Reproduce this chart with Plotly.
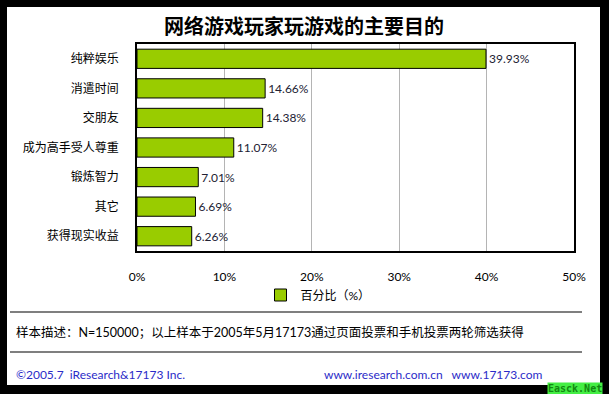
import plotly.graph_objects as go

categories = ["纯粹娱乐", "消遣时间", "交朋友", "成为高手受人尊重", "锻炼智力", "其它", "获得现实收益"]
values = [39.93, 14.66, 14.38, 11.07, 7.01, 6.69, 6.26]
x_ticks = [0, 10, 20, 30, 40, 50]
x_tick_labels = ["0%", "10%", "20%", "30%", "40%", "50%"]
series_name = "百分比（%）"

W, H = 609, 394
L, R, T, B = 137, 574, 44, 251  # plot area in pixels


def px(x):
    return (x - L) / (R - L)


def py(y):
    return (B - y) / (B - T)


CJK = "Lato, 'Noto Sans CJK SC', sans-serif"

fig = go.Figure(go.Bar(
    y=categories,
    x=values,
    orientation="h",
    name=series_name,
    marker=dict(color="#99CC00", line=dict(color="#000000", width=1)),
    texttemplate="%{x:.2f}%",
    textposition="outside",
    textfont=dict(family=CJK, size=12, color="#222233"),
    cliponaxis=False,
    showlegend=True,
))

fig.update_layout(
    width=W, height=H,
    margin=dict(l=L, r=W - R, t=T, b=H - B),
    paper_bgcolor="#000000",
    plot_bgcolor="#FFFFFF",
    bargap=0.35,
    font=dict(family=CJK, size=12, color="#000000"),
    showlegend=True,
    legend=dict(
        orientation="h", x=px(318), y=py(295), xanchor="center", yanchor="middle",
        font=dict(size=12, family=CJK, color="#000000"),
        bgcolor="rgba(0,0,0,0)", itemwidth=30,
    ),
    xaxis=dict(
        range=[0, 50], tickvals=x_ticks, ticktext=x_tick_labels,
        showgrid=True, gridcolor="#B4B4B4", gridwidth=1,
        showline=True, linecolor="#000000", linewidth=1.5, mirror=True,
        zeroline=False, ticks="", ticklabelstandoff=14,
        tickfont=dict(size=12, family=CJK, color="#000000"),
    ),
    yaxis=dict(
        categoryorder="array", categoryarray=categories, autorange="reversed",
        showline=True, linecolor="#000000", linewidth=1.5, mirror=True,
        ticks="", ticklabelstandoff=14,
        tickfont=dict(size=12, family=CJK, color="#000000"),
    ),
    shapes=[
        dict(type="rect", xref="paper", yref="paper",
             x0=px(7), x1=px(600), y0=py(385), y1=py(7),
             fillcolor="#FFFFFF", line=dict(width=0), layer="below"),
        dict(type="line", xref="paper", yref="paper",
             x0=px(10), x1=px(582), y0=py(312), y1=py(312),
             line=dict(color="#000000", width=1.2)),
        dict(type="line", xref="paper", yref="paper",
             x0=px(10), x1=px(582), y0=py(352), y1=py(352),
             line=dict(color="#000000", width=1.2)),
    ],
    annotations=[
        dict(text="<b>网络游戏玩家玩游戏的主要目的</b>", xref="paper", yref="paper",
             x=px(304), y=py(25), xanchor="center", yanchor="middle", showarrow=False,
             font=dict(size=20, family="'Noto Sans CJK SC', sans-serif", color="#000000")),
        dict(text="样本描述：N=150000；以上样本于2005年5月17173通过页面投票和手机投票两轮筛选获得",
             xref="paper", yref="paper", x=px(14), y=py(332), xanchor="left", yanchor="middle",
             showarrow=False, font=dict(size=12.5, family=CJK, color="#000000")),
        dict(text="©2005.7  iResearch&17173 Inc.", xref="paper", yref="paper",
             x=px(14), y=py(374), xanchor="left", yanchor="middle", showarrow=False,
             font=dict(size=12, family=CJK, color="#2B2BC8")),
        dict(text="www.iresearch.com.cn   www.17173.com", xref="paper", yref="paper",
             x=px(322), y=py(374), xanchor="left", yanchor="middle", showarrow=False,
             font=dict(size=12, family=CJK, color="#2B2BC8")),
        dict(text="<b>Easck.Net</b>", xref="paper", yref="paper",
             x=px(603), y=py(388), xanchor="right", yanchor="middle", showarrow=False,
             bgcolor="#44EE44", borderpad=0,
             font=dict(size=10, family="DejaVu Sans Mono, monospace", color="#118811")),
    ],
)

fig.write_html("out.html", config={"displayModeBar": False},
               post_script="document.body.style.margin='0px';")
